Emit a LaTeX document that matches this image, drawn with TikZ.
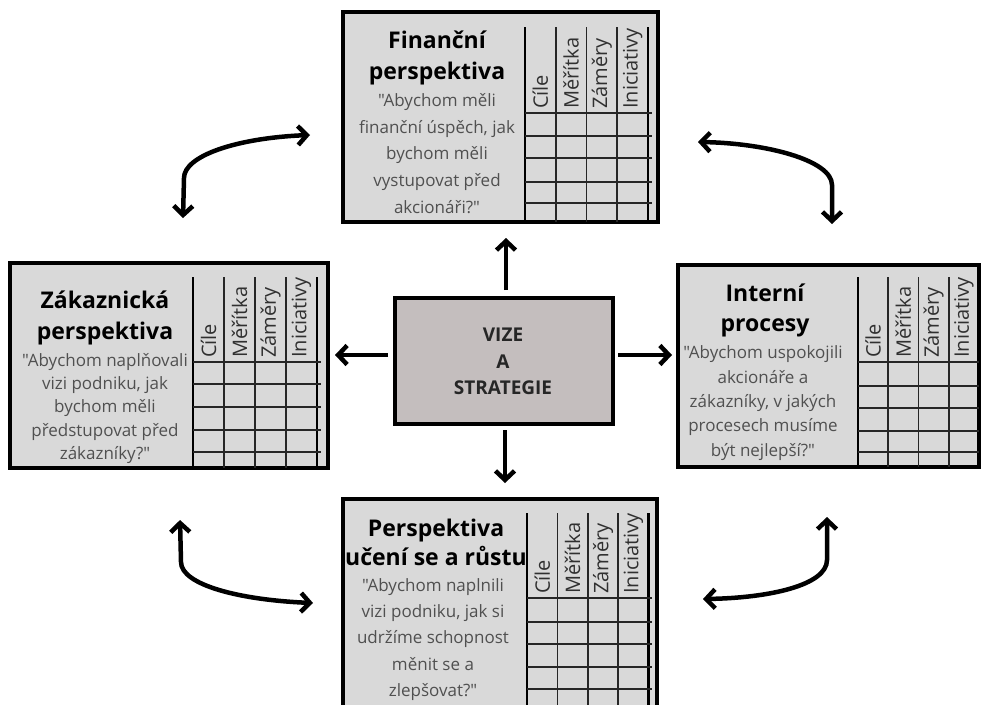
\documentclass[tikz,border=0pt]{standalone}
\usepackage{fontspec}
\setmainfont{Open Sans}[Ligatures=TeXOff]
\usetikzlibrary{arrows.meta}
\definecolor{boxfill}{HTML}{D9D9D9}
\definecolor{vizefill}{HTML}{C4BEBE}
\definecolor{quotegray}{HTML}{505050}
\definecolor{hdrgray}{HTML}{303030}
\tikzset{
  pbox/.style={draw=black, line width=4pt, fill=boxfill, inner sep=0pt, outer sep=0pt},
  vbox/.style={draw=black, line width=4pt, fill=vizefill, inner sep=0pt, outer sep=0pt},
  ttl/.style={font=\bfseries\fontsize{23}{#1}\selectfont, align=center, text=black, inner sep=0pt},
  qte/.style={font=\fontsize{17}{#1}\selectfont, align=center, text=quotegray, inner sep=0pt},
  vtxt/.style={font=\bfseries\fontsize{19}{26.5}\selectfont, align=center, text=black!85, inner sep=0pt},
  hdr/.style={font=\fontsize{20}{24}\selectfont, text=hdrgray, rotate=90, anchor=west, inner sep=0pt},
  tline/.style={line width=1.6pt, black!85},
  tthick/.style={line width=2.6pt, black},
  arr/.style={line width=4.5pt, -{Straight Barb[length=9pt,width=19pt]}},
  arrtwo/.style={line width=4.5pt, line cap=round, {Straight Barb[length=9pt,width=19pt]}-{Straight Barb[length=9pt,width=19pt]}},
}
% #1 name, #2 x0, #3 col width, #4 ytop, #5 yhead, #6 ybottom, #7 rows, #8 line end x
\newcommand\bscTable[8]{%
  \draw[tthick] (#2,#4) -- (#2,#6);
  \foreach \i in {1,2,3} \draw[tline] ({#2+\i*#3},#4) -- ({#2+\i*#3},#6);
  \draw[tthick] ({#2+4*#3},#4) -- ({#2+4*#3},#6);
  \foreach \yy in {#5,#7} \draw[tline] (#2,\yy) -- (#8,\yy);
  \foreach \lab [count=\k from 0] in {Cíle,Měřítka,Záměry,Iniciativy}
    \node[hdr] (#1-h\k) at ({#2+0.5*#3+\k*#3},{#5-4}) {\lab};
}
\begin{document}
\begin{tikzpicture}[x=1pt,y=-1pt]
\useasboundingbox (0,0) rectangle (982,704);

% boxes
\node[pbox, minimum width=315pt, minimum height=210pt] (fin) at (500.5,117) {};
\node[pbox, minimum width=318pt, minimum height=205pt] (cust) at (169,365.5) {};
\node[pbox, minimum width=301pt, minimum height=202pt] (int) at (828.5,366) {};
\node[pbox, minimum width=314pt, minimum height=213pt] (grow) at (500,605.5) {};
\node[vbox, minimum width=218pt, minimum height=126pt] (vize) at (504,361) {};

% tables
\bscTable{fin}{525}{30.75}{27}{113}{222}{136,158,182,203}{652}
\bscTable{cust}{193}{31}{277}{362}{468}{384,407,430,452}{321}
\bscTable{int}{858}{30.25}{277}{362}{467}{386,408,431,452}{979}
\bscTable{grow}{527}{30.4}{513}{598}{712}{622,644,667,689}{652}

% texts
\node[ttl=31] (fin-t) at (437,57.5) {Finanční\\perspektiva};
\node[qte=26.75] (fin-q) at (437,153.5) {"Abychom měli\\finanční úspěch, jak\\bychom měli\\vystupovat před\\akcionáři?"};

\node[ttl=31] (cust-t) at (105,317.5) {Zákaznická\\perspektiva};
\node[qte=23.3] (cust-q) at (105,408.5) {"Abychom naplňovali\\vizi podniku, jak\\bychom měli\\předstupovat před\\zákazníky?"};

\node[ttl=30] (int-t) at (765,310) {Interní\\procesy};
\node[qte=24.3] (int-q) at (763,403) {"Abychom uspokojili\\akcionáře a\\zákazníky, v jakých\\procesech musíme\\být nejlepší?"};

\node[ttl=29] (grow-t) at (436,542.5) {Perspektiva\\učení se a růstu};
\node[qte=26.2] (grow-q) at (433,639.5) {"Abychom naplnili\\vizi podniku, jak si\\udržíme schopnost\\měnit se a\\zlepšovat?"};

\node[vtxt] (vize-t) at (503,361.5) {VIZE\\A\\STRATEGIE};

% straight arrows
\draw[arr, shorten <=8pt, shorten >=16pt] ([xshift=2pt]vize.north) -- ([xshift=2pt]vize.north |- fin.south);
\draw[arr, shorten <=6pt, shorten >=16pt] ([xshift=1pt]vize.south) -- ([xshift=1pt]vize.south |- grow.north);
\draw[arr, shorten <=7pt, shorten >=7pt] ([yshift=6pt]vize.west) -- ([yshift=6pt]vize.west -| cust.east);
\draw[arr, shorten <=5pt, shorten >=6pt] ([yshift=6pt]vize.east) -- ([yshift=6pt]vize.east -| int.west);

% curved arrows
\coordinate (tlA) at (183,218); \coordinate (tlB) at (310,135);
\coordinate (trA) at (698,142); \coordinate (trB) at (832,224);
\coordinate (blA) at (180,520); \coordinate (blB) at (313,603);
\coordinate (brA) at (827,517); \coordinate (brB) at (703,599);
\draw[arrtwo] (tlA) -- (184,178) .. controls (184,156) and (236,138) .. (tlB);
\draw[arrtwo] (trA) .. controls (765,143) and (832,160) .. (832,185) -- (trB);
\draw[arrtwo] (blA) -- (181,562) .. controls (181,585) and (240,600) .. (blB);
\draw[arrtwo] (brA) -- (827,560) .. controls (827,585) and (770,598) .. (brB);
\end{tikzpicture}
\end{document}
